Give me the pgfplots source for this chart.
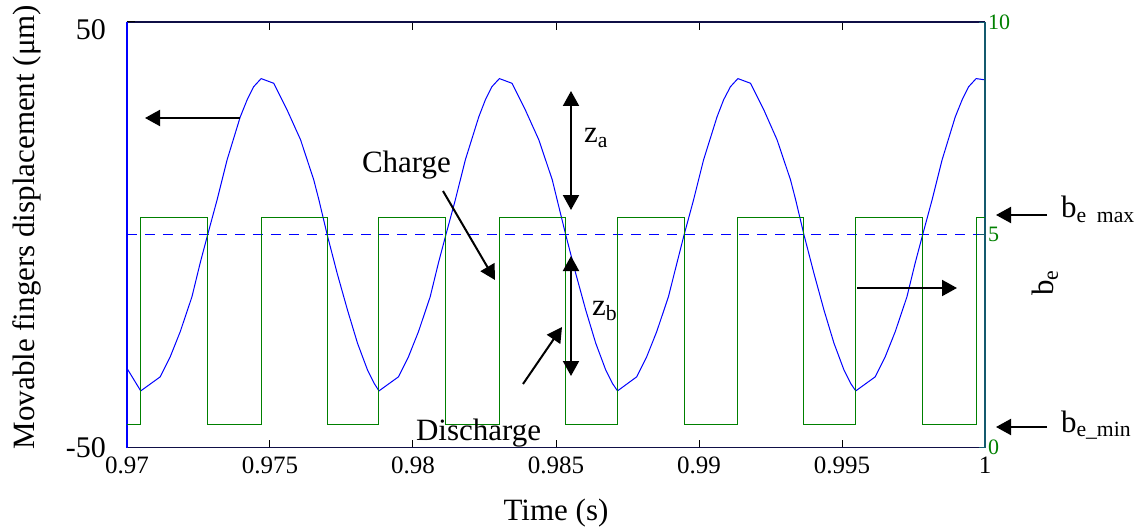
\documentclass[border=0pt]{standalone}
\usepackage{fontspec}
\setmainfont{Liberation Serif}
\usepackage{pgfplots}
\pgfplotsset{compat=1.18}
\usetikzlibrary{arrows.meta}

\definecolor{mblue}{RGB}{0,0,255}
\definecolor{mgreen}{RGB}{0,128,0}
\definecolor{spineteal}{RGB}{20,90,110}
\definecolor{spinenavy}{RGB}{15,15,70}

\begin{document}
\begin{tikzpicture}[font=\fontsize{15.5}{18}\selectfont]
% page = 1141 x 531 px, 0.5pt per px, axis box lower left at origin
\useasboundingbox (-63.5pt,-41.75pt) rectangle (507pt,223.75pt);

\begin{axis}[
  at={(0,0)}, anchor=south west,
  width=429pt, height=212.75pt, scale only axis,
  xmin=0.97, xmax=1, ymin=-50, ymax=50,
  axis x line*=box, axis y line*=left,
  x axis line style={spinenavy, line width=0.6pt},
  y axis line style={mblue, line width=1.2pt},
  xtick={0.97,0.975,0.98,0.985,0.99,0.995,1},
  xticklabels={0.97,0.975,0.98,0.985,0.99,0.995,1},
  xtick pos=both, ytick pos=left,
  tick align=inside, major tick length=4pt,
  tick style={black, line width=0.5pt},
  ytick={-50,0}, yticklabels={-50,{}},
  extra y ticks={50}, extra y tick labels={50},
  extra y tick style={yticklabel style={yshift=-4pt}},
  xticklabel style={font=\fontsize{12.5}{14}\selectfont, yshift=-1pt},
  yticklabel style={font=\fontsize{15}{17}\selectfont, xshift=-7pt},
  xlabel={Time (s)},
  ylabel={Movable fingers displacement (μm)},
  every axis x label/.style={at={(rel axis cs:0.5,0)}, yshift=-33pt, anchor=center},
  every axis y label/.style={at={(rel axis cs:0,0.518)}, xshift=-50pt, anchor=center, rotate=90},
]
\addplot[mblue, line width=0.5pt, dash pattern=on 5pt off 4pt] coordinates {(0.97,0) (1,0)};
\addplot[mblue, line width=0.5pt] coordinates {
(0.97,-31.4)
(0.97048,-36.7) (0.97116,-33.4) (0.97151,-28.7) (0.97186,-22.8) (0.97227,-14.6) (0.97256,-6.6)
(0.97282,0) (0.97315,8.2) (0.97350,17.6) (0.97396,27.7) (0.97420,31.7) (0.97443,34.8)
(0.97469,36.7) (0.97513,35.6) (0.97560,29.3) (0.97607,22.3) (0.97653,12.9) (0.97671,8.2)
(0.97700,0) (0.97735,-9.1) (0.97771,-17.7) (0.97806,-25.5) (0.97841,-31.8) (0.97864,-34.9)
(0.97881,-36.7) (0.97949,-33.4) (0.97984,-28.7) (0.98019,-22.8) (0.98060,-14.6) (0.98089,-6.6)
(0.98115,0) (0.98148,8.2) (0.98183,17.6) (0.98230,27.7) (0.98253,31.7) (0.98276,34.8)
(0.98302,36.7) (0.98346,35.6) (0.98393,29.3) (0.98440,22.3) (0.98487,12.9) (0.98504,8.2)
(0.98534,0) (0.98569,-9.1) (0.98604,-17.7) (0.98639,-25.5) (0.98674,-31.8) (0.98697,-34.9)
(0.98715,-36.7) (0.98782,-33.4) (0.98817,-28.7) (0.98852,-22.8) (0.98893,-14.6) (0.98923,-6.6)
(0.98948,0) (0.98981,8.2) (0.99016,17.6) (0.99063,27.7) (0.99086,31.7) (0.99110,34.8)
(0.99136,36.7) (0.99180,35.6) (0.99227,29.3) (0.99273,22.3) (0.99320,12.9) (0.99338,8.2)
(0.99367,0) (0.99402,-9.1) (0.99437,-17.7) (0.99472,-25.5) (0.99507,-31.8) (0.99530,-34.9)
(0.99548,-36.7) (0.99616,-33.4) (0.99651,-28.7) (0.99686,-22.8) (0.99727,-14.6) (0.99756,-6.6)
(0.99782,0) (0.99815,8.2) (0.99850,17.6) (0.99896,27.7) (0.99920,31.7) (0.99943,34.8)
(0.99969,36.7) (1,36.4)
};
\end{axis}

\begin{axis}[
  at={(0,0)}, anchor=south west,
  width=429pt, height=212.75pt, scale only axis,
  xmin=0.97, xmax=1, ymin=0, ymax=10,
  axis x line=none, axis y line*=right,
  y axis line style={spineteal, line width=0.8pt},
  ytick={0,5,10},
  /pgf/number format/assume math mode=true,
  yticklabel style={mgreen, font=\fontsize{11}{13}\selectfont, xshift=-2pt},
  tick align=inside, major tick length=3pt,
  tick style={spineteal, line width=0.5pt},
  ylabel={b\textsubscript{e}},
  every axis y label/.style={at={(rel axis cs:1,0.387)}, xshift=30pt, anchor=center, rotate=90},
]
\addplot[mgreen, line width=0.5pt] coordinates {
(0.97,0.545) (0.97048,0.545) (0.97048,5.4) (0.97282,5.4) (0.97282,0.545) (0.97469,0.545) (0.97469,5.4) (0.97700,5.4) (0.97700,0.545)
(0.97881,0.545) (0.97881,5.4) (0.98115,5.4) (0.98115,0.545) (0.98302,0.545) (0.98302,5.4) (0.98534,5.4) (0.98534,0.545)
(0.98715,0.545) (0.98715,5.4) (0.98948,5.4) (0.98948,0.545) (0.99136,0.545) (0.99136,5.4) (0.99367,5.4) (0.99367,0.545)
(0.99548,0.545) (0.99548,5.4) (0.99782,5.4) (0.99782,0.545) (0.99969,0.545) (0.99969,5.4) (1,5.4)
};
\end{axis}

% annotations, in pixel units of the reference
\begin{scope}[x=0.5pt, y=-0.5pt, shift={(-63.5pt,223.75pt)},
  >={Triangle[length=7.5pt,width=8pt]}, line width=1pt]
\draw[->] (240,118) -- (145,118);
\draw[<->] (571,91) -- (571,210);
\draw[<->] (571,256) -- (571,376);
\draw[->] (443,191) -- (495,280);
\draw[->] (523,384) -- (562,327);
\draw[->] (857,288) -- (957,288);
\draw[->] (1047,215) -- (996,215);
\draw[->] (1047,427) -- (996,427);
\node[anchor=base west, inner sep=0pt] at (361,173) {Charge};
\node[anchor=base west, inner sep=0pt] at (415,440) {Discharge};
\node[anchor=base west, inner sep=0pt] at (583,143) {z\textsubscript{a}};
\node[anchor=base west, inner sep=0pt] at (591,315) {z\textsubscript{b}};
\node[anchor=base west, inner sep=0pt] at (1060,218) {b\textsubscript{e\ \ max}};
\node[anchor=base west, inner sep=0pt] at (1060,432) {b\textsubscript{e\_min}};
\end{scope}
\end{tikzpicture}
\end{document}
